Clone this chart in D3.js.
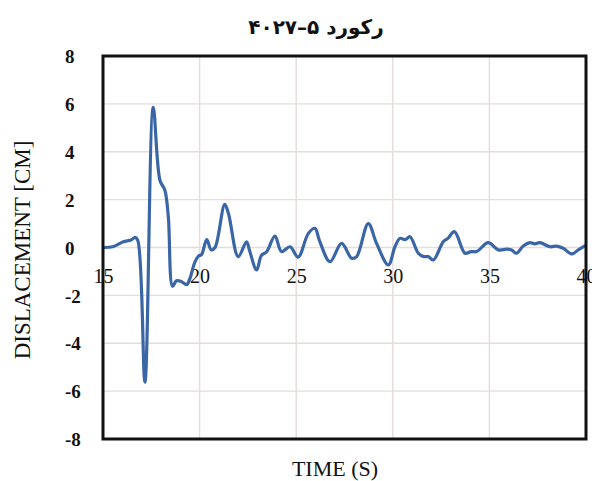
<!DOCTYPE html>
<html>
<head>
<meta charset="utf-8">
<script src="https://cdn.jsdelivr.net/npm/d3@7"></script>
<style>
  html, body { margin: 0; padding: 0; background: #fff; }
  svg { display: block; }
</style>
</head>
<body>
<svg id="chart" width="592" height="481"></svg>
<script>
// Record 5-4027 displacement time history
const chartTitle = "رکورد ۵–۴۰۲۷";
const xTitle = "TIME (S)";
const yTitle = "DISLACEMENT [CM]";

const timeS = [
  15.0, 15.5, 16.05, 16.45, 16.66, 16.8, 17.17, 17.6, 17.95, 18.2,
  18.38, 18.6, 18.8, 19.05, 19.33, 19.5, 19.76, 19.95, 20.1, 20.37,
  20.6, 20.8, 21.3, 21.5, 22.0, 22.43, 22.6, 22.95, 23.2, 23.47,
  23.9, 24.24, 24.68, 25.1, 25.63, 25.97, 26.2, 26.75, 27.35, 27.87,
  28.13, 28.73, 29.16, 29.77, 30.11, 30.37, 30.65, 30.89, 31.32, 31.6,
  31.84, 32.1, 32.61, 32.85, 33.19, 33.74, 34.05, 34.34, 34.94, 35.46,
  35.9, 36.15, 36.4, 36.75, 37.1, 37.35, 37.62, 38.14, 38.48, 38.82,
  39.26, 39.6, 40.0
];
const displacementCm = [
  0.0, 0.03, 0.24, 0.31, 0.42, 0.3, -5.62, 5.85, 2.8, 2.4,
  1.3, -1.62, -1.39, -1.42, -1.55, -1.29, -0.6, -0.35, -0.3, 0.33,
  -0.1, 0.0, 1.8, 1.4, -0.38, 0.24, -0.17, -0.94, -0.33, -0.18,
  0.48, -0.17, 0.03, -0.4, 0.59, 0.8, 0.3, -0.59, 0.17, -0.45,
  -0.38, 1.0, 0.17, -0.73, 0.03, 0.38, 0.33, 0.45, -0.24, -0.38,
  -0.38, -0.52, 0.24, 0.38, 0.66, -0.24, -0.17, -0.17, 0.2, -0.1,
  -0.07, -0.1, -0.24, 0.06, 0.2, 0.15, 0.2, 0.03, 0.06, -0.03,
  -0.27, -0.1, 0.1
];
const xTicks = [15, 20, 25, 30, 35, 40];
const yTicks = [-8, -6, -4, -2, 0, 2, 4, 6, 8];

const svg = d3.select("#chart");
const plot = { left: 103, right: 586, top: 56, bottom: 439 };

const x = d3.scaleLinear().domain([15, 40]).range([plot.left, plot.right]);
const y = d3.scaleLinear().domain([-8, 8]).range([plot.bottom, plot.top]);

const serif = "'Liberation Serif', 'Times New Roman', serif";
const plain = d => String(d);

// grid
const grid = svg.append("g").attr("stroke", "#e5dcdb").attr("stroke-width", 1.4);
grid.selectAll("line.h").data(yTicks).join("line")
  .attr("x1", plot.left).attr("x2", plot.right)
  .attr("y1", d => y(d)).attr("y2", d => y(d));
grid.selectAll("line.v").data(xTicks).join("line")
  .attr("y1", plot.top).attr("y2", plot.bottom)
  .attr("x1", d => x(d)).attr("x2", d => x(d));

// x axis labels sit just below the zero line
const xAxis = d3.axisBottom(x).tickValues(xTicks).tickSize(0).tickPadding(0).tickFormat(plain);
const gx = svg.append("g").attr("transform", `translate(0,${y(0) + 28})`).call(xAxis);
gx.select(".domain").remove();
gx.selectAll("text").attr("font-family", serif).attr("font-size", 20)
  .attr("fill", "#111").attr("dy", "0.35em");

// y axis labels
const yAxis = d3.axisLeft(y).tickValues(yTicks).tickSize(0).tickPadding(0).tickFormat(plain);
const gy = svg.append("g").attr("transform", `translate(65,0)`).call(yAxis);
gy.select(".domain").remove();
gy.selectAll("text").attr("font-family", serif).attr("font-size", 19)
  .attr("font-weight", "bold").attr("fill", "#111")
  .attr("text-anchor", "start").attr("dy", "0.35em");

// series
const points = timeS.map((t, i) => [t, displacementCm[i]]);
const line = d3.line().x(d => x(d[0])).y(d => y(d[1])).curve(d3.curveCatmullRom.alpha(0.5));
svg.append("path").datum(points)
  .attr("d", line)
  .attr("fill", "none")
  .attr("stroke", "#3b66a6")
  .attr("stroke-width", 3.2)
  .attr("stroke-linejoin", "round");

// frame
svg.append("rect")
  .attr("x", plot.left).attr("y", plot.top)
  .attr("width", plot.right - plot.left).attr("height", plot.bottom - plot.top)
  .attr("fill", "none").attr("stroke", "#111").attr("stroke-width", 3);

// titles
svg.append("text")
  .attr("x", 316).attr("y", 34)
  .attr("text-anchor", "middle")
  .attr("direction", "rtl")
  .attr("font-family", "'DejaVu Sans', 'Noto Sans', sans-serif")
  .attr("font-weight", "bold").attr("font-size", 20)
  .attr("fill", "#111")
  .text(chartTitle);

svg.append("text")
  .attr("x", 335).attr("y", 476)
  .attr("text-anchor", "middle")
  .attr("font-family", serif).attr("font-size", 22).attr("fill", "#111")
  .text(xTitle);

svg.append("text")
  .attr("transform", `translate(30,250) rotate(-90)`)
  .attr("text-anchor", "middle")
  .attr("font-family", serif).attr("font-size", 23).attr("fill", "#111")
  .text(yTitle);
</script>
</body>
</html>
